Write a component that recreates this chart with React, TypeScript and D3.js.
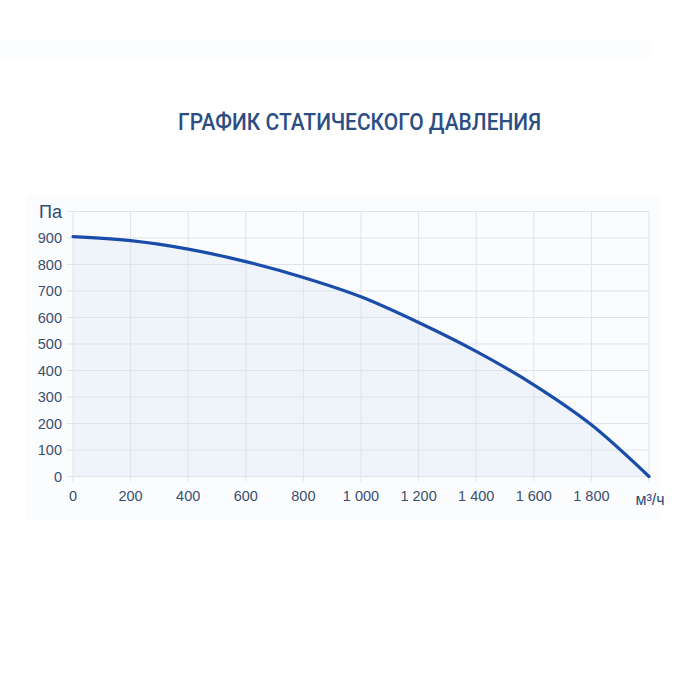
import * as d3 from "d3";

// airflow, m³/h
const flow = [0, 200, 400, 600, 800, 1000, 1200, 1400, 1600, 1800, 2000];
// static pressure, Pa
const pressure = [905, 890, 858, 811, 751, 678, 581, 472, 346, 195, 0];

const xTicks = [0, 200, 400, 600, 800, 1000, 1200, 1400, 1600, 1800];
const yTicks = [0, 100, 200, 300, 400, 500, 600, 700, 800, 900];

const title = "ГРАФИК СТАТИЧЕСКОГО ДАВЛЕНИЯ";
const yUnit = "Па";
const xUnit = "м³/ч";

const W = 700;
const H = 700;

const fmt = (v: number) => d3.format(",")(v).replace(/,/g, " ");

export default function App() {
  const x = d3.scaleLinear().domain([0, 2000]).range([73, 649]);
  const y = d3.scaleLinear().domain([0, 1000]).range([476.5, 211.5]);

  const pts = flow.map((f, i) => [f, pressure[i]] as [number, number]);

  const line = d3
    .line<[number, number]>()
    .x((d) => x(d[0]))
    .y((d) => y(d[1]))
    .curve(d3.curveMonotoneX);

  const area = d3
    .area<[number, number]>()
    .x((d) => x(d[0]))
    .y0(y(0))
    .y1((d) => y(d[1]))
    .curve(d3.curveMonotoneX);

  const label = "#3a4f6e";
  const grid = "#dfe3ea";

  return (
    <svg
      width={W}
      height={H}
      style={{ position: "absolute", left: 0, top: 0, background: "#fff" }}
    >
      <rect x={0} y={40} width={650} height={20} fill="#fcfdfe" />
      <rect x={27} y={195} width={633} height={325} fill="#fbfcfe" />

      <text
        x={178}
        y={130}
        textLength={363}
        lengthAdjust="spacingAndGlyphs"
        fontFamily="Roboto"
        fontWeight={500}
        fontSize={24}
        fill="#2c4e84"
      >
        {title}
      </text>

      <path d={area(pts) ?? ""} fill="#eff3fa" />

      {[...xTicks, 2000].map((t) => (
        <line
          key={"gx" + t}
          x1={x(t)}
          x2={x(t)}
          y1={y(1000)}
          y2={y(0) + 5}
          stroke={grid}
          strokeWidth={1}
        />
      ))}
      {[...yTicks, 1000].map((t) => (
        <line
          key={"gy" + t}
          x1={x(0) - 6}
          x2={x(2000)}
          y1={y(t)}
          y2={y(t)}
          stroke={grid}
          strokeWidth={1}
        />
      ))}

      <path
        d={line(pts) ?? ""}
        fill="none"
        stroke="#1a4daa"
        strokeWidth={3.2}
        strokeLinecap="round"
      />

      <g fontFamily="Liberation Sans, Arial, sans-serif" fontSize={14.5} fill={label}>
        {yTicks.map((t) => (
          <text key={"ty" + t} x={62} y={y(t) + 5} textAnchor="end">
            {t}
          </text>
        ))}
        {xTicks.map((t) => (
          <text key={"tx" + t} x={x(t)} y={501} textAnchor="middle">
            {fmt(t)}
          </text>
        ))}
        <text x={650} y={505} textAnchor="middle" fontSize={16} fill="#2f4c75">
          {xUnit}
        </text>
        <text x={62} y={218} textAnchor="end" fontSize={18} fill="#2f4c75">
          {yUnit}
        </text>
      </g>
    </svg>
  );
}
